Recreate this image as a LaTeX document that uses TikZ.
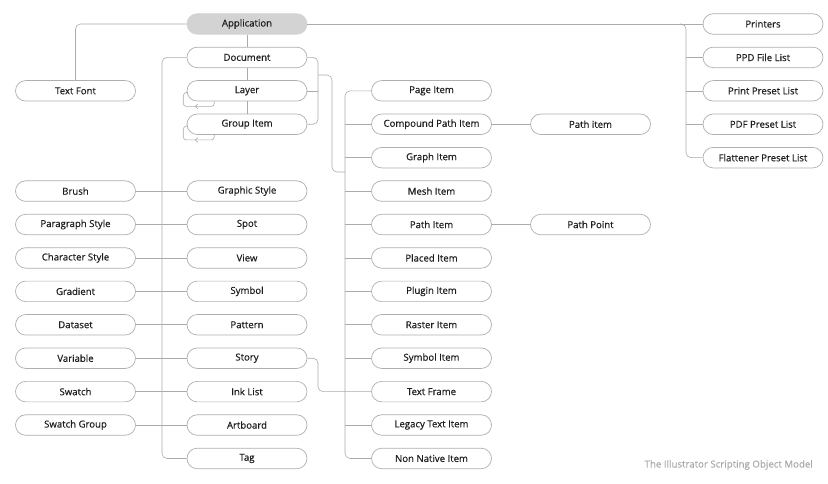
\documentclass[tikz,border=0pt]{standalone}
\usepackage{fontspec}
\setmainfont{Open Sans}
\usetikzlibrary{shapes.misc,arrows.meta,calc}
\definecolor{linegray}{HTML}{ABABAB}
\definecolor{boxgray}{HTML}{AFAFAF}
\definecolor{appfill}{HTML}{D3D3D3}
\definecolor{txt}{HTML}{1E1E1E}
\definecolor{captxt}{HTML}{A8A8A8}
\tikzset{
  pill/.style={rounded rectangle, draw=boxgray, line width=0.7pt, fill=white,
    minimum width=120pt, minimum height=20.5pt, inner sep=0pt,
    font=\fontsize{9.6}{11}\selectfont\addfontfeature{FakeBold=0.4}, text=txt},
  apppill/.style={pill, fill=appfill, draw=appfill},
  conn/.style={draw=linegray, line width=0.6pt, rounded corners=5pt},
  loopconn/.style={draw=linegray, line width=0.6pt, rounded corners=3pt},
}
\begin{document}
\begin{tikzpicture}[x=1pt,y=-1pt]
\useasboundingbox (0,0) rectangle (828,484);
\def\cL{75.5}\def\cM{247}\def\cA{431.5}\def\cB{590.5}\def\cF{763}
\def\row#1{24+33.42*#1}
% nodes
\node[apppill] (app) at (\cM,{\row0}) {Application};
\node[pill] (doc) at (\cM,{\row1}) {Document};
\node[pill] (lay) at (\cM,{\row2}) {Layer};
\node[pill] (grp) at (\cM,{\row3}) {Group Item};
\node[pill] (gst) at (\cM,{\row5}) {Graphic Style};
\node[pill] (spot) at (\cM,{\row6}) {Spot};
\node[pill] (view) at (\cM,{\row7}) {View};
\node[pill] (sym) at (\cM,{\row8}) {Symbol};
\node[pill] (pat) at (\cM,{\row9}) {Pattern};
\node[pill] (story) at (\cM,{\row10}) {Story};
\node[pill] (ink) at (\cM,{\row11}) {Ink List};
\node[pill] (art) at (\cM,{\row12}) {Artboard};
\node[pill] (tag) at (\cM,{\row13}) {Tag};
% left column
\node[pill] (tfont) at (\cL,{\row2}) {Text Font};
\node[pill] (brush) at (\cL,{\row5}) {Brush};
\node[pill] (pst) at (\cL,{\row6}) {Paragraph Style};
\node[pill] (cst) at (\cL,{\row7}) {Character Style};
\node[pill] (grad) at (\cL,{\row8}) {Gradient};
\node[pill] (dset) at (\cL,{\row9}) {Dataset};
\node[pill] (var) at (\cL,{\row10}) {Variable};
\node[pill] (sw) at (\cL,{\row11}) {Swatch};
\node[pill] (swg) at (\cL,{\row12}) {Swatch Group};
% right column A
\node[pill] (page) at (\cA,{\row2}) {Page Item};
\node[pill] (cpi) at (\cA,{\row3}) {Compound Path Item};
\node[pill] (graph) at (\cA,{\row4}) {Graph Item};
\node[pill] (mesh) at (\cA,{\row5}) {Mesh Item};
\node[pill] (pathi) at (\cA,{\row6}) {Path Item};
\node[pill] (placed) at (\cA,{\row7}) {Placed Item};
\node[pill] (plugin) at (\cA,{\row8}) {Plugin Item};
\node[pill] (raster) at (\cA,{\row9}) {Raster Item};
\node[pill] (symi) at (\cA,{\row10}) {Symbol Item};
\node[pill] (tframe) at (\cA,{\row11}) {Text Frame};
\node[pill] (legacy) at (\cA,{\row12}) {Legacy Text Item};
\node[pill] (nonnat) at (\cA,{\row13}) {Non Native Item};
% right column B
\node[pill] (pathitem) at (\cB,{\row3}) {Path item};
\node[pill] (ppoint) at (\cB,{\row6}) {Path Point};
% far right
\node[pill] (prn) at (\cF,{\row0}) {Printers};
\node[pill] (ppd) at (\cF,{\row1}) {PPD File List};
\node[pill] (pps) at (\cF,{\row2}) {Print Preset List};
\node[pill] (pdf) at (\cF,{\row3}) {PDF Preset List};
\node[pill] (flat) at (\cF,{\row4}) {Flattener Preset List};
% caption
\node[anchor=east, inner sep=0pt, text=captxt, font=\fontsize{9.7}{11}\selectfont\addfontfeature{FakeBold=0.2}] (cap) at (813,465) {The Illustrator Scripting Object Model};

% bus coordinates
\coordinate (lbus) at (162,0);
\coordinate (dbus) at (318,0);
\coordinate (rbus) at (345,0);
\coordinate (fbus) at (686,0);
\coordinate (ja) at (318,75);
\coordinate (jb) at (332,75);
\coordinate (jc) at (332,172);
\coordinate (jd) at (345,172);

% Application connectors
\draw[conn] (app.west) -| (tfont.north);
\draw[conn] (app.east) -- (prn.west);
\draw[conn] ($(app.east -| fbus)+(-6,0)$) -- (app.east -| fbus) |- (flat.west);
\draw[conn] (ppd.west -| fbus) -- (ppd.west);
\draw[conn] (pps.west -| fbus) -- (pps.west);
\draw[conn] (pdf.west -| fbus) -- (pdf.west);
\draw[conn] (app.south) -- (doc.north);
\draw[conn] (doc.south) -- (lay.north);
\draw[conn] (lay.south) -- (grp.north);

% Document left bus
\draw[conn] (doc.west) -- (doc.west -| lbus) -- (tag.west -| lbus) -- (tag.west);
\foreach \a/\b in {brush/gst,pst/spot,cst/view,grad/sym,dset/pat,var/story,sw/ink,swg/art}{
  \draw[conn] (\a.east) -- (\b.west);
}

% Document right bracket
\draw[conn] (doc.east) -- (doc.east -| dbus) -- (grp.east -| dbus) -- (grp.east);
\draw[conn] (lay.east) -- (lay.east -| dbus);
\draw[conn] (ja) -- (jb) -- (jc) -- (jd);

% right bus
\draw[conn] (page.west) -- (page.west -| rbus) -- (nonnat.west -| rbus) -- (nonnat.west);
\foreach \b in {cpi,graph,mesh,pathi,placed,plugin,raster,symi,legacy}{
  \draw[conn] (\b.west -| rbus) -- (\b.west);
}
\draw[conn] (story.east) -- (story.east -| dbus) -- (tframe.west -| dbus) -- (tframe.west);

\draw[conn] (cpi.east) -- (pathitem.west);
\draw[conn] (pathi.east) -- (ppoint.west);

% self loops
\foreach \n in {lay,grp}{
  \draw[loopconn] ($(\n.south west)+(17,0)$) -- ++(0,5) -- ++(-31,0) -- ++(0,-13.5) -- ($(\n.west)+(1,1.5)$);
  \draw[draw=linegray, line width=0.6pt] ($(\n.south west)+(-2,5)$) ++(2.5,-2.2) -- ++(-2.5,2.2) -- ++(2.5,2.2);
}
\end{tikzpicture}
\end{document}
